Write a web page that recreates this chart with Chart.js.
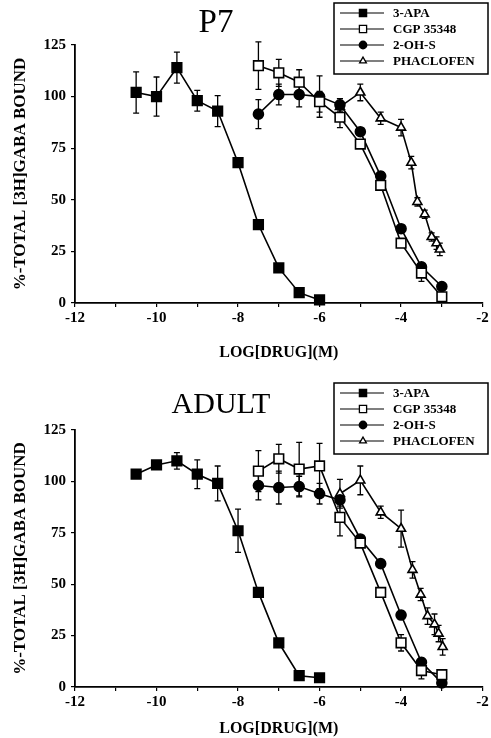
<!DOCTYPE html>
<html>
<head>
<meta charset="utf-8">
<script src="https://cdn.jsdelivr.net/npm/chart.js@4.4.1/dist/chart.umd.min.js"></script>
<style>
    html, body { margin: 0; padding: 0; background: #fff; }
    .panel { position: relative; width: 491px; height: 369px; }
</style>
</head>
<body>
<div class="panel"><canvas id="p7Chart"></canvas></div>
<div class="panel"><canvas id="adultChart"></canvas></div>
<script>
// axis ticks
const xTicks = [-12, -10, -8, -6, -4, -2];
const yTicks = [0, 25, 50, 75, 100, 125];

// legend names
const drugNames = ['3-APA', 'CGP 35348', '2-OH-S', 'PHACLOFEN'];

// log dose values
const doseApa = [-10.5, -10, -9.5, -9, -8.5, -8, -7.5, -7, -6.5, -6];
const doseCgp = [-7.5, -7, -6.5, -6, -5.5, -5, -4.5, -4, -3.5, -3];
const doseOh = [-7.5, -7, -6.5, -6, -5.5, -5, -4.5, -4, -3.5, -3];
const p7DosePhac = [-5.5, -5, -4.5, -4, -3.75, -3.6, -3.42, -3.25, -3.13, -3.05];
const adultDosePhac = [-5.5, -5, -4.5, -4, -3.72, -3.52, -3.35, -3.18, -3.08, -2.98];

// P7 panel
const p7ApaY = [102, 100, 114, 98, 93, 68, 38, 17, 5, 1.5];
const p7ApaErr = [10, 9.5, 7.5, 5, 7.5, 0, 0, 0, 0, 0];
const p7CgpY = [115, 111.5, 107, 97.5, 90, 77, 57, 29, 14.5, 3];
const p7CgpErr = [11.5, 6.5, 6, 5, 5, 1, 2, 2, 4, 1];
const p7OhY = [91.5, 101, 101, 100, 96, 83, 61.5, 36, 17.5, 8];
const p7OhErr = [7, 5, 6, 10, 3, 1, 2, 2, 1, 1];
const p7PhacY = [95, 102, 89.5, 85, 68, 49, 43, 32, 29, 26];
const p7PhacErr = [4, 4, 3, 4, 3, 2, 2, 2, 3, 3];

// ADULT panel
const adultApaY = [103.5, 108, 110, 103.5, 99, 76, 46, 21.5, 5.5, 4.5];
const adultApaErr = [0, 0, 4, 7, 8.5, 10.5, 0, 0, 0, 0];
const adultCgpY = [105, 111, 106, 107.5, 82.5, 70, 46, 21.5, 8, 6];
const adultCgpErr = [10, 7, 13, 11, 9, 1, 1, 4, 4, 1];
const adultOhY = [98, 97, 97.5, 94, 91, 72, 60, 35, 12, 2];
const adultOhErr = [7, 8, 5, 5, 3, 1, 1, 2, 2, 1];
const adultPhacY = [94, 100.5, 85, 77, 57, 45, 34.5, 30.5, 26, 19.5];
const adultPhacErr = [7, 7, 3, 9, 4, 3, 4, 5, 4, 4];

const SERIF = '"Liberation Serif", "DejaVu Serif", serif';

// marker looks per drug (same order as drugNames)
const markerStyles = [
    { pointStyle: 'rect', radius: 6.8, fill: '#000' },
    { pointStyle: 'rect', radius: 6.8, fill: '#fff' },
    { pointStyle: 'circle', radius: 5, fill: '#000' },
    { pointStyle: 'triangle', radius: 5.2, fill: '#fff' }
];

function toPoints(xs, ys) {
    return xs.map((x, i) => ({ x: x, y: ys[i] }));
}

function makeDataset(idx, xs, ys, errs) {
    const m = markerStyles[idx];
    return {
        label: drugNames[idx],
        data: toPoints(xs, ys),
        errorBars: errs,
        showLine: true,
        borderColor: '#000',
        borderWidth: 1.6,
        pointStyle: m.pointStyle,
        pointRadius: m.radius,
        pointBackgroundColor: m.fill,
        pointBorderColor: '#000',
        pointBorderWidth: 1.6,
        clip: false
    };
}

// vertical error bars with caps
const errorBarPlugin = {
    id: 'errorBars',
    beforeDatasetsDraw(chart) {
        const ctx = chart.ctx;
        const yScale = chart.scales.y;
        ctx.save();
        ctx.strokeStyle = '#000';
        ctx.lineWidth = 1.3;
        chart.data.datasets.forEach((ds, di) => {
            const meta = chart.getDatasetMeta(di);
            (ds.errorBars || []).forEach((e, i) => {
                if (!e) return;
                const pt = meta.data[i];
                const v = ds.data[i].y;
                const top = yScale.getPixelForValue(v + e);
                const bot = yScale.getPixelForValue(v - e);
                ctx.beginPath();
                ctx.moveTo(pt.x, top);
                ctx.lineTo(pt.x, bot);
                ctx.moveTo(pt.x - 3, top);
                ctx.lineTo(pt.x + 3, top);
                ctx.moveTo(pt.x - 3, bot);
                ctx.lineTo(pt.x + 3, bot);
                ctx.stroke();
            });
        });
        ctx.restore();
    }
};

// panel title and boxed legend
const decorPlugin = {
    id: 'decor',
    afterDraw(chart, args, opts) {
        const ctx = chart.ctx;
        ctx.save();
        ctx.fillStyle = '#000';
        ctx.font = opts.titleSize + 'px ' + SERIF;
        ctx.textAlign = 'center';
        ctx.textBaseline = 'alphabetic';
        ctx.fillText(opts.title, opts.titleX, opts.titleY);

        const bx = 334, bw = 154, by = opts.legendTop, bh = 71;
        ctx.lineWidth = 1.5;
        ctx.strokeStyle = '#000';
        ctx.strokeRect(bx, by, bw, bh);
        const rows = [10, 26, 42, 58];
        ctx.font = 'bold 13px ' + SERIF;
        ctx.textAlign = 'left';
        ctx.textBaseline = 'middle';
        drugNames.forEach((name, i) => {
            const y = by + rows[i];
            ctx.lineWidth = 1.2;
            ctx.beginPath();
            ctx.moveTo(340, y);
            ctx.lineTo(384, y);
            ctx.stroke();
            const m = markerStyles[i];
            ctx.fillStyle = m.fill;
            ctx.lineWidth = 1.3;
            Chart.helpers.drawPoint(ctx, {
                pointStyle: m.pointStyle,
                radius: m.radius * 0.75,
                rotation: 0,
                borderWidth: 1.3
            }, 363, y);
            ctx.fillStyle = '#000';
            ctx.fillText(name, 393, y + 1);
        });
        ctx.restore();
    }
};

function createPanel(canvasId, cfg) {
    const ctx = document.getElementById(canvasId).getContext('2d');
    new Chart(ctx, {
        type: 'scatter',
        data: { datasets: cfg.datasets },
        plugins: [errorBarPlugin, decorPlugin],
        options: {
            animation: false,
            responsive: true,
            maintainAspectRatio: false,
            layout: { padding: { top: cfg.plotTop, right: cfg.padRight, left: 0, bottom: 0 } },
            plugins: {
                legend: { display: false },
                tooltip: { enabled: false },
                decor: {
                    title: cfg.title,
                    titleSize: cfg.titleSize,
                    titleX: cfg.titleX,
                    titleY: cfg.titleY,
                    legendTop: cfg.legendTop
                }
            },
            scales: {
                x: {
                    type: 'linear',
                    min: xTicks[0],
                    max: xTicks[xTicks.length - 1],
                    afterFit: function(scale) { scale.height = cfg.xAxisHeight; },
                    afterBuildTicks: function(scale) {
                        const t = [];
                        for (let v = xTicks[0]; v <= xTicks[xTicks.length - 1]; v++) t.push({ value: v });
                        scale.ticks = t;
                    },
                    grid: { drawOnChartArea: false, drawTicks: true, tickLength: 4, color: '#000', lineWidth: 1.2 },
                    border: { display: true, color: '#000', width: 1.8 },
                    ticks: {
                        autoSkip: false,
                        maxRotation: 0,
                        padding: 2,
                        color: '#000',
                        font: { family: SERIF, size: 15, weight: 'bold' },
                        callback: v => xTicks.includes(v) ? String(v) : ''
                    },
                    title: {
                        display: true,
                        text: 'LOG[DRUG](M)',
                        color: '#000',
                        font: { family: SERIF, size: 16, weight: 'bold' },
                        padding: { top: 0, bottom: cfg.xTitlePad }
                    }
                },
                y: {
                    type: 'linear',
                    min: yTicks[0],
                    max: yTicks[yTicks.length - 1],
                    afterFit: function(scale) { scale.width = 75; },
                    afterBuildTicks: function(scale) {
                        scale.ticks = yTicks.map(v => ({ value: v }));
                    },
                    grid: { drawOnChartArea: false, drawTicks: true, tickLength: 4, color: '#000', lineWidth: 1.2 },
                    border: { display: true, color: '#000', width: 1.8 },
                    ticks: {
                        padding: 5,
                        color: '#000',
                        font: { family: SERIF, size: 15, weight: 'bold' }
                    },
                    title: {
                        display: true,
                        text: '%-TOTAL [3H]GABA BOUND',
                        color: '#000',
                        font: { family: SERIF, size: 17, weight: 'bold' },
                        padding: { top: 10, bottom: 0 }
                    }
                }
            }
        }
    });
}

createPanel('p7Chart', {
    title: 'P7', titleSize: 33, titleX: 216, titleY: 32,
    legendTop: 3, plotTop: 45, padRight: 8, xAxisHeight: 66, xTitlePad: 7,
    datasets: [
        makeDataset(0, doseApa, p7ApaY, p7ApaErr),
        makeDataset(1, doseCgp, p7CgpY, p7CgpErr),
        makeDataset(2, doseOh, p7OhY, p7OhErr),
        makeDataset(3, p7DosePhac, p7PhacY, p7PhacErr)
    ]
});

createPanel('adultChart', {
    title: 'ADULT', titleSize: 30, titleX: 221, titleY: 44,
    legendTop: 14, plotTop: 61, padRight: 7, xAxisHeight: 51, xTitlePad: 0,
    datasets: [
        makeDataset(0, doseApa, adultApaY, adultApaErr),
        makeDataset(1, doseCgp, adultCgpY, adultCgpErr),
        makeDataset(2, doseOh, adultOhY, adultOhErr),
        makeDataset(3, adultDosePhac, adultPhacY, adultPhacErr)
    ]
});
</script>
</body>
</html>
